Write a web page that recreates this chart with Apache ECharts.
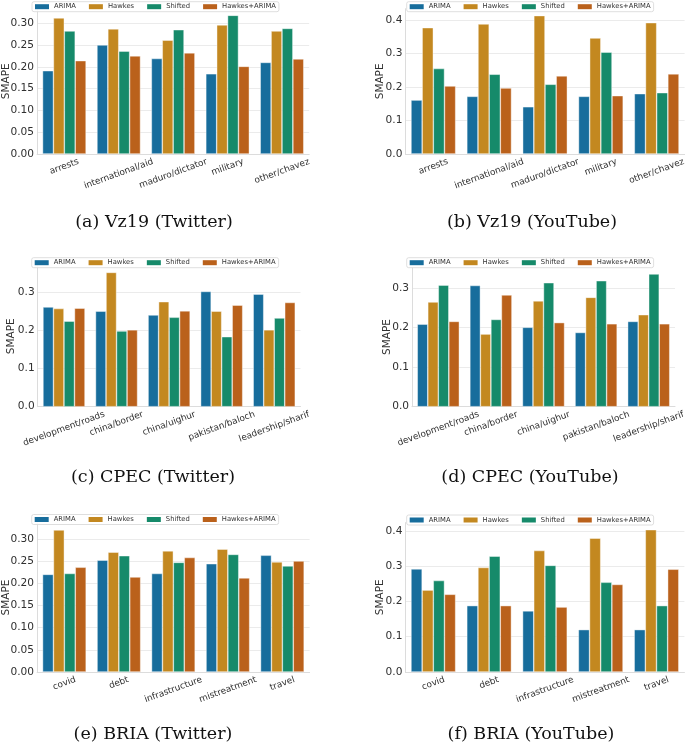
<!DOCTYPE html>
<html>
<head>
<meta charset="utf-8">
<script src="https://cdn.jsdelivr.net/npm/echarts@6/dist/echarts.min.js"></script>
<style>
  html, body { margin: 0; padding: 0; background: #fff; }
  #chart { width: 685px; height: 744px; }
</style>
</head>
<body>
<div id="chart"></div>
<script>
// ---------------- DATA ----------------
const methods = ['ARIMA', 'Hawkes', 'Shifted', 'Hawkes+ARIMA'];

const vzTopics = ['arrests', 'international/aid', 'maduro/dictator', 'military', 'other/chavez'];
const cpecTopics = ['development/roads', 'china/border', 'china/uighur', 'pakistan/baloch', 'leadership/sharif'];
const briaTopics = ['covid', 'debt', 'infrastructure', 'mistreatment', 'travel'];

const captions = ['(a) Vz19 (Twitter)', '(b) Vz19 (YouTube)', '(c) CPEC (Twitter)',
                  '(d) CPEC (YouTube)', '(e) BRIA (Twitter)', '(f) BRIA (YouTube)'];

// (a) Vz19 Twitter
const vzTwArima   = [0.191, 0.250, 0.219, 0.184, 0.210];
const vzTwHawkes  = [0.312, 0.287, 0.261, 0.296, 0.282];
const vzTwShifted = [0.282, 0.236, 0.285, 0.318, 0.288];
const vzTwHA      = [0.214, 0.225, 0.232, 0.201, 0.218];
// (b) Vz19 YouTube
const vzYtArima   = [0.161, 0.172, 0.141, 0.172, 0.180];
const vzYtHawkes  = [0.377, 0.388, 0.413, 0.346, 0.392];
const vzYtShifted = [0.255, 0.238, 0.208, 0.304, 0.183];
const vzYtHA      = [0.203, 0.197, 0.233, 0.174, 0.239];
// (c) CPEC Twitter
const cpTwArima   = [0.262, 0.251, 0.241, 0.303, 0.296];
const cpTwHawkes  = [0.258, 0.353, 0.276, 0.251, 0.202];
const cpTwShifted = [0.225, 0.199, 0.235, 0.184, 0.233];
const cpTwHA      = [0.259, 0.202, 0.252, 0.267, 0.274];
// (d) CPEC YouTube
const cpYtArima   = [0.209, 0.307, 0.201, 0.188, 0.216];
const cpYtHawkes  = [0.265, 0.184, 0.268, 0.277, 0.233];
const cpYtShifted = [0.308, 0.221, 0.314, 0.319, 0.336];
const cpYtHA      = [0.216, 0.283, 0.213, 0.210, 0.210];
// (e) BRIA Twitter
const brTwArima   = [0.220, 0.252, 0.222, 0.244, 0.263];
const brTwHawkes  = [0.320, 0.270, 0.273, 0.277, 0.248];
const brTwShifted = [0.222, 0.262, 0.247, 0.265, 0.239];
const brTwHA      = [0.236, 0.214, 0.258, 0.212, 0.250];
// (f) BRIA YouTube
const brYtArima   = [0.292, 0.188, 0.173, 0.120, 0.120];
const brYtHawkes  = [0.232, 0.296, 0.344, 0.379, 0.403];
const brYtShifted = [0.259, 0.328, 0.302, 0.254, 0.188];
const brYtHA      = [0.220, 0.188, 0.184, 0.248, 0.291];

// ---------------- LAYOUT / STYLE ----------------
const colors = ['#176d9c', '#c38820', '#168a6a', '#ba611b'];
const SANS = '"DejaVu Sans", sans-serif';
const SERIF = '"DejaVu Serif", serif';
const XFS = 8.9;     // x tick label font size
const ROT = 20;      // x label rotation (deg)

const panels = [
  { cats: vzTopics,   vals: [vzTwArima, vzTwHawkes, vzTwShifted, vzTwHA], interval: 0.05, dec: 2,
    grid: { left: 37.1, top: 8.4, width: 272.1, height: 145.6 }, legend: { left: 32, top: 1.7 }, nameGap: 25.3, cap: [154, 222] },
  { cats: vzTopics,   vals: [vzYtArima, vzYtHawkes, vzYtShifted, vzYtHA], interval: 0.1, dec: 1,
    grid: { left: 405.4, top: 8.7, width: 279.2, height: 145.3 }, legend: { left: 406.7, top: 1.7 }, nameGap: 19.8, cap: [532, 222] },
  { cats: cpecTopics, vals: [cpTwArima, cpTwHawkes, cpTwShifted, cpTwHA], interval: 0.1, dec: 1,
    grid: { left: 37.7, top: 265.7, width: 262.8, height: 141 }, legend: { left: 31.7, top: 257.7 }, nameGap: 20.6, cap: [153, 477.5] },
  { cats: cpecTopics, vals: [cpYtArima, cpYtHawkes, cpYtShifted, cpYtHA], interval: 0.1, dec: 1,
    grid: { left: 412, top: 267.4, width: 263, height: 139.3 }, legend: { left: 406.7, top: 257.7 }, nameGap: 19.7, cap: [530, 477.5] },
  { cats: briaTopics, vals: [brTwArima, brTwHawkes, brTwShifted, brTwHA], interval: 0.05, dec: 2,
    grid: { left: 37.1, top: 522.9, width: 272.5, height: 149.1 }, legend: { left: 31.7, top: 514.5 }, nameGap: 25.5, cap: [153, 734.2] },
  { cats: briaTopics, vals: [brYtArima, brYtHawkes, brYtShifted, brYtHA], interval: 0.1, dec: 1,
    grid: { left: 405.4, top: 522.6, width: 279, height: 149.4 }, legend: { left: 406.7, top: 515 }, nameGap: 19.8, cap: [531, 734.2] }
];

// text measuring for matplotlib-like centred rotated tick labels
const mctx = document.createElement('canvas').getContext('2d');
mctx.font = XFS + 'px "DejaVu Sans"';
const rad = ROT * Math.PI / 180;
function labelRich(text) {
  const w = mctx.measureText(text).width;
  const lh = 1.164 * XFS;
  const H = w * Math.sin(rad) + lh * Math.cos(rad);
  const D = 2.5 + H / 2;
  const b = D * Math.cos(rad), a = D * Math.sin(rad);
  return { fontSize: XFS, fontFamily: SANS, color: '#303030', padding: [2 * b, 2 * a, 0, 0] };
}

const option = {
  animation: false,
  backgroundColor: '#ffffff',
  grid: [], xAxis: [], yAxis: [], series: [], legend: [], graphic: []
};

panels.forEach((p, i) => {
  option.grid.push(Object.assign({ containLabel: false, outerBoundsMode: 'none' }, p.grid));
  const rich = {};
  p.cats.forEach((c, j) => { rich['p' + i + 'c' + j] = labelRich(c); });
  option.xAxis.push({
    type: 'category', gridIndex: i, data: p.cats,
    axisTick: { show: false },
    axisLine: { show: true, lineStyle: { color: '#dcdcdc', width: 1 } },
    axisLabel: {
      interval: 0, rotate: ROT, margin: 0, align: 'center', verticalAlign: 'middle',
      formatter: (v, idx) => '{p' + i + 'c' + idx + '|' + v + '}',
      rich: rich
    }
  });
  let mx = 0;
  p.vals.forEach(arr => arr.forEach(v => { if (v > mx) mx = v; }));
  const iv = p.interval;
  option.yAxis.push({
    type: 'value', gridIndex: i, min: 0, max: mx * 1.05, interval: iv,
    name: 'SMAPE', nameLocation: 'middle', nameGap: p.nameGap, nameMoveOverlap: false,
    nameTextStyle: { fontSize: 10.5, fontFamily: SANS, color: '#303030' },
    axisLine: { show: true, lineStyle: { color: '#dcdcdc', width: 1 } },
    axisTick: { show: false },
    axisLabel: {
      margin: 3, fontSize: 10.6, fontFamily: SANS, color: '#303030', showMaxLabel: false,
      formatter: v => (Math.abs(v / iv - Math.round(v / iv)) < 1e-6) ? v.toFixed(p.dec) : ''
    },
    splitLine: { show: true, showMaxLine: false, lineStyle: { color: '#ebebeb', width: 1 } }
  });
  methods.forEach((m, k) => {
    option.series.push({
      type: 'bar', name: m, xAxisIndex: i, yAxisIndex: i, data: p.vals[k],
      barGap: '0%', barCategoryGap: '20%',
      itemStyle: { color: colors[k], borderColor: 'rgba(255,255,255,0.7)', borderWidth: 0.6 },
      emphasis: { disabled: true }
    });
  });
  option.legend.push({
    data: methods, left: p.legend.left, top: p.legend.top,
    itemWidth: 14, itemHeight: 5, itemGap: 13, padding: [1.5, 3, 1.5, 3],
    borderColor: '#d6d6d6', borderWidth: 0.8, borderRadius: 2,
    backgroundColor: 'rgba(255,255,255,0.85)', icon: 'rect',
    itemStyle: { borderWidth: 0 },
    textStyle: { fontSize: 6.8, fontFamily: SANS, color: '#333333' },
    selectedMode: false
  });
  option.graphic.push({
    type: 'text', x: p.cap[0], y: p.cap[1],
    style: { text: captions[i], fontSize: 17.5, fontFamily: SERIF, fill: '#111111',
             align: 'center', verticalAlign: 'middle' }
  });
});

const chart = echarts.init(document.getElementById('chart'), null, { renderer: 'canvas' });
chart.setOption(option);
</script>
</body>
</html>
